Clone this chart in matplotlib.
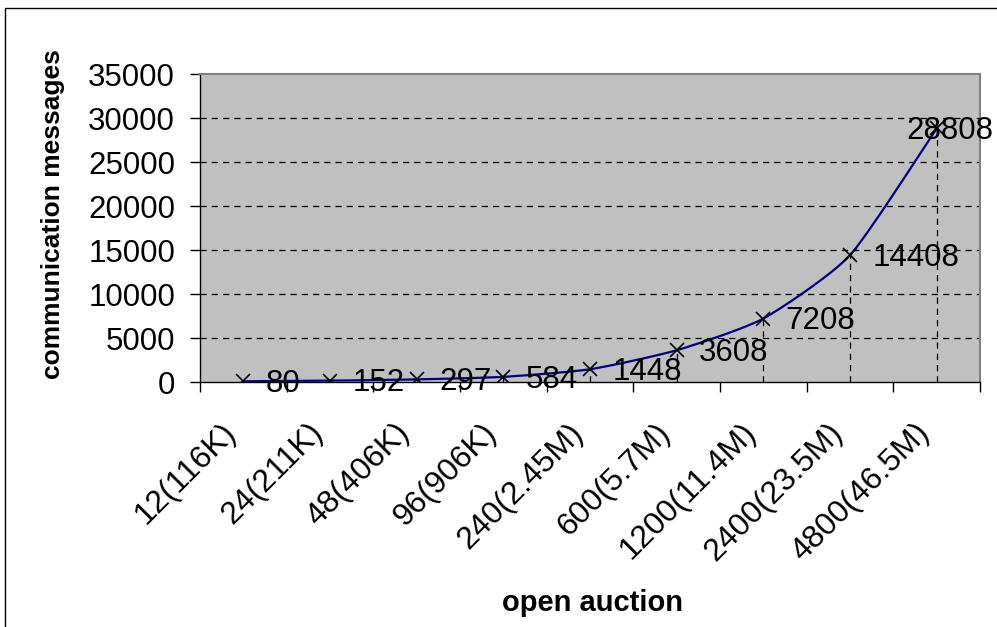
import numpy as np
import matplotlib
matplotlib.use("Agg")
import matplotlib.pyplot as plt
from matplotlib.patches import Rectangle
from matplotlib.transforms import ScaledTranslation

plt.rcParams['font.family'] = ['Liberation Sans', 'DejaVu Sans']

# open auction workload: item count (document size) vs. messages exchanged
categories = ['12(116K)', '24(211K)', '48(406K)', '96(906K)', '240(2.45M)',
              '600(5.7M)', '1200(11.4M)', '2400(23.5M)', '4800(46.5M)']
messages = [80, 152, 297, 584, 1448, 3608, 7208, 14408, 28808]
y_ticks = [0, 5000, 10000, 15000, 20000, 25000, 30000, 35000]


def smooth_curve(x, y, tension=0.1, steps=30):
    # cubic Bezier pieces through the points (spreadsheet-style "smoothed line")
    x = np.asarray(x, float)
    y = np.asarray(y, float)
    px = np.concatenate([[x[0]], x, [x[-1]]])
    py = np.concatenate([[y[0]], y, [y[-1]]])
    xs, ys = [], []
    t = np.linspace(0, 1, steps)
    for i in range(1, len(px) - 2):
        p0, p1, p2, p3 = (np.array([px[j], py[j]]) for j in (i - 1, i, i + 1, i + 2))
        c1 = p1 + (p2 - p0) * tension
        c2 = p2 - (p3 - p1) * tension
        b = ((1 - t) ** 3)[:, None] * p1 + (3 * (1 - t) ** 2 * t)[:, None] * c1 \
            + (3 * (1 - t) * t ** 2)[:, None] * c2 + (t ** 3)[:, None] * p2
        xs.extend(b[:, 0])
        ys.extend(b[:, 1])
    return np.array(xs), np.array(ys)


fig = plt.figure(figsize=(9.97, 6.27), dpi=100)
ax = fig.add_axes([200 / 997, 1 - 382 / 627, 780 / 997, 308 / 627])

ax.set_facecolor('#C0C0C0')
ax.set_xlim(-0.5, len(categories) - 0.5)
ax.set_ylim(0, 35000)

# horizontal dashed gridlines
for v in y_ticks[1:-1]:
    ax.axhline(v, color='black', linestyle=(0, (5, 4)), linewidth=0.9, zorder=1)

xpos = np.arange(len(categories))

# drop lines from each point to the axis
ax.vlines(xpos, 0, messages, colors='black', linestyles=(0, (5, 4)), linewidth=0.9, zorder=2)

sx, sy = smooth_curve(xpos, messages)
ax.plot(sx, sy, color='#000080', linewidth=1.6, zorder=3)
ax.plot(xpos, messages, linestyle='none', marker='x', markersize=10,
        markeredgewidth=1.2, color='black', zorder=4)

# value labels to the right of each point
for i, v in enumerate(messages):
    dx = 16 if i < len(messages) - 1 else -22
    ax.annotate(str(v), (xpos[i], v), xytext=(dx, -2), textcoords='offset points',
                ha='left', va='center', fontsize=22.5, zorder=5, annotation_clip=False)

ax.set_yticks(y_ticks)
ax.set_yticklabels([str(v) for v in y_ticks], fontsize=22.5)
ax.tick_params(axis='y', direction='out', length=7, width=1, pad=11)

ax.set_xticks(xpos)
ax.set_xticklabels(categories, fontsize=23, rotation=45, ha='right', va='top',
                   rotation_mode='anchor')
ax.tick_params(axis='x', length=0, pad=25.5)
shift = ScaledTranslation(-0.22, 0, fig.dpi_scale_trans)
for lbl in ax.get_xticklabels():
    lbl.set_transform(lbl.get_transform() + shift)
ax.set_xticks(np.arange(len(categories) + 1) - 0.5, minor=True)
ax.tick_params(axis='x', which='minor', direction='out', length=7, width=1)

for side in ('left', 'bottom'):
    ax.spines[side].set_color('black')
    ax.spines[side].set_linewidth(1)
for side in ('top', 'right'):
    ax.spines[side].set_color('#808080')
    ax.spines[side].set_linewidth(1.5)

fig.text(53 / 997, 1 - 214 / 627, 'communication messages', rotation=90,
         fontsize=19, fontweight='bold', ha='center', va='center')
fig.text(592 / 997, 1 - 603 / 627, 'open auction', fontsize=21,
         fontweight='bold', ha='center', va='center')

# chart frame, open past the right and bottom edges
fig.patches.append(Rectangle((5 / 997, -0.1), 1.2, 1.1 - 8 / 627, transform=fig.transFigure,
                             fill=False, edgecolor='black', linewidth=1))

fig.savefig('out.png', dpi=100)
